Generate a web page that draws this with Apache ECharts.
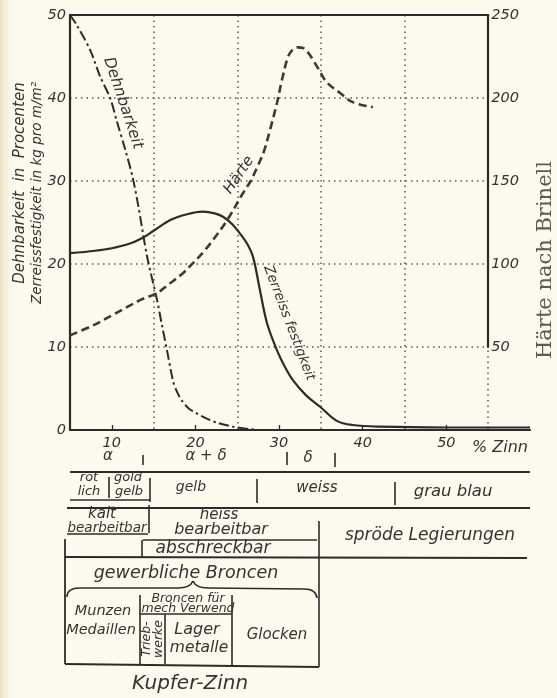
<!DOCTYPE html>
<html>
<head>
<meta charset="utf-8">
<script src="https://cdn.jsdelivr.net/npm/echarts@6/dist/echarts.min.js"></script>
<style>
html,body{margin:0;padding:0;background:#fcf9ee;}
#c{width:557px;height:698px;}
</style>
</head>
<body>
<div id="c"></div>
<script>
// ---- data ----
const zinnZerreiss = [5, 8, 10, 12, 13.6, 15, 17, 19, 20.9, 22.3, 23.3, 24.4, 25.3, 26.2, 26.9, 27.7, 28.55, 29.75, 30.7, 31.65, 33.2, 34.9, 36.9, 38.8, 42, 50, 60];
const zerreissfestigkeit = [21.3, 21.6, 21.9, 22.4, 23.1, 24.0, 25.3, 26.0, 26.3, 26.1, 25.7, 24.8, 23.7, 22.4, 20.8, 16.9, 12.9, 9.6, 7.6, 6.0, 4.2, 2.8, 1.1, 0.6, 0.4, 0.3, 0.3];

const zinnDehn = [5, 5.8, 7.4, 8.6, 9.8, 10.6, 11.6, 12.5, 13.2, 14.2, 15.4, 16.0, 16.6, 17.3, 17.8, 18.4, 19.2, 20.0, 20.9, 22.5, 24.5, 27];
const dehnbarkeit = [50, 48.8, 45.8, 42.6, 40.0, 37.2, 33.8, 30.4, 26.8, 21.0, 15.7, 12.6, 9.6, 6.0, 4.6, 3.5, 2.6, 2.1, 1.6, 0.9, 0.4, 0.05];

const zinnHaerte = [5, 7.75, 10, 11.8, 13.5, 15.4, 17, 18.4, 19.7, 21, 22.1, 23.8, 25.6, 26.6, 27.4, 28.2, 28.9, 29.75, 30.35, 31.05, 31.6, 32.25, 32.9, 33.45, 34.05, 34.65, 35.7, 37.3, 38.8, 41.2];
const haerte = [57, 63, 69, 74, 78.5, 82.5, 88.5, 94, 100.5, 107.5, 114.5, 126.5, 142, 150, 158.5, 168, 180.5, 197, 211, 224.5, 229, 230.5, 230, 227.5, 223, 218, 209.5, 203, 197.5, 194.5];

const xTickValues = [10, 20, 30, 40, 50];
const leftTicks = {min: 0, max: 50, interval: 10};
const rightTicks = {min: 50, max: 250, interval: 50};

const zip = (xs, ys) => xs.map((x, i) => [x, ys[i]]);

const INK = '#2b2b2b';
const TXT = '#333';
const HAND = 'DejaVu Sans';

function ln(x1, y1, x2, y2, w) {
  return {type: 'line', shape: {x1, y1, x2, y2}, style: {stroke: INK, lineWidth: w || 1.6}, silent: true};
}
function qc(x1, y1, cx, cy, x2, y2) {
  return {type: 'bezierCurve', shape: {x1, y1, x2, y2, cpx1: cx, cpy1: cy}, style: {stroke: INK, lineWidth: 1.6, fill: null}, silent: true};
}
function tx(x, y, text, size, opts) {
  opts = opts || {};
  return {
    type: 'text', x, y, rotation: opts.rot || 0,
    style: {
      text, fill: opts.fill || TXT,
      font: (opts.italic === false ? '' : 'italic ') + (size) + 'px "' + (opts.family || HAND) + '"',
      align: opts.align || 'center', verticalAlign: 'middle'
    },
    silent: true
  };
}

const chart = echarts.init(document.getElementById('c'), null, {renderer: 'canvas'});

const option = {
  backgroundColor: '#fcf9ee',
  animation: false,
  grid: [
    {left: 70, top: 15, width: 460, height: 415},
    {left: 70, top: 15, width: 418.18, height: 332}
  ],
  xAxis: [
    {
      type: 'value', gridIndex: 0, position: 'bottom', min: 5, max: 60,
      axisLine: {show: true, onZero: false, lineStyle: {color: INK, width: 2.2}},
      axisTick: {show: true, inside: true, length: 5, customValues: xTickValues, lineStyle: {color: INK, width: 1.3}},
      axisLabel: {show: true, customValues: xTickValues, margin: 6, color: TXT, fontFamily: HAND, fontStyle: 'italic', fontSize: 14.5},
      splitLine: {show: false}
    },
    {
      type: 'value', gridIndex: 0, position: 'top', min: 0, max: 55, interval: 10,
      axisLine: {show: false}, axisTick: {show: false}, axisLabel: {show: false},
      splitLine: {show: true, showMinLine: false, showMaxLine: false, lineStyle: {color: '#555', width: 1.5, type: [1.5, 4]}}
    },
    {
      type: 'value', gridIndex: 1, position: 'top', min: 5, max: 55,
      axisLine: {show: true, onZero: false, lineStyle: {color: INK, width: 2.2}},
      axisTick: {show: false}, axisLabel: {show: false}, splitLine: {show: false}
    }
  ],
  yAxis: [
    {
      type: 'value', gridIndex: 0, position: 'left', min: leftTicks.min, max: leftTicks.max, interval: leftTicks.interval,
      axisLine: {show: true, onZero: false, lineStyle: {color: INK, width: 2.2}},
      axisTick: {show: false},
      axisLabel: {margin: 4, color: TXT, fontFamily: HAND, fontStyle: 'italic', fontSize: 14.5},
      splitLine: {show: false}
    },
    {
      type: 'value', gridIndex: 1, position: 'right', min: rightTicks.min, max: rightTicks.max, interval: rightTicks.interval,
      axisLine: {show: true, onZero: false, lineStyle: {color: INK, width: 2.2}},
      axisTick: {show: false},
      axisLabel: {margin: 3, color: TXT, fontFamily: HAND, fontStyle: 'italic', fontSize: 14.5},
      splitLine: {show: true, showMinLine: true, showMaxLine: false, lineStyle: {color: '#555', width: 1.5, type: [1.5, 4]}}
    }
  ],
  series: [
    {
      name: 'Zerreissfestigkeit', type: 'line', xAxisIndex: 0, yAxisIndex: 0,
      data: zip(zinnZerreiss, zerreissfestigkeit), showSymbol: false, smooth: 0.35,
      lineStyle: {color: INK, width: 2.2}, silent: true
    },
    {
      name: 'Dehnbarkeit', type: 'line', xAxisIndex: 0, yAxisIndex: 0,
      data: zip(zinnDehn, dehnbarkeit), showSymbol: false, smooth: 0.3,
      lineStyle: {color: INK, width: 2, type: [10, 3.5, 2.5, 3.5]}, silent: true
    },
    {
      name: 'Härte', type: 'line', xAxisIndex: 2, yAxisIndex: 1,
      data: zip(zinnHaerte, haerte), showSymbol: false, smooth: 0.35,
      lineStyle: {color: '#3a3a3a', width: 2.6, type: [8, 4.5]}, silent: true
    }
  ],
  graphic: {
    elements: [
      // left-edge scan shading
      {type: 'rect', shape: {x: 0, y: 0, width: 16, height: 698}, silent: true,
       style: {fill: {type: 'linear', x: 0, y: 0, x2: 1, y2: 0, colorStops: [{offset: 0, color: 'rgba(225,205,160,0.55)'}, {offset: 1, color: 'rgba(252,249,238,0)'}]}}},
      // axis titles
      tx(20, 183, 'Dehnbarkeit  in  Procenten', 15, {rot: Math.PI / 2}),
      tx(37, 193, 'Zerreissfestigkeit in kg pro m/m²', 13.5, {rot: Math.PI / 2}),
      tx(546, 260, 'Härte nach Brinell', 21, {rot: Math.PI / 2, italic: false, family: 'DejaVu Serif', fill: '#5a5a5a'}),
      // curve labels
      tx(123, 103, 'Dehnbarkeit', 15.5, {rot: -71.5 * Math.PI / 180}),
      tx(239, 175, 'Härte', 15, {rot: 56 * Math.PI / 180}),
      tx(289, 323, 'Zerreiss festigkeit', 13.5, {rot: -69 * Math.PI / 180}),
      // x unit
      tx(500, 448, '% Zinn', 16),
      // row 1: phases
      tx(108, 456, 'α', 15), tx(206, 456, 'α + δ', 15), tx(308, 458, 'δ', 15),
      ln(143, 455, 143, 465), ln(287, 452, 287, 465), ln(335, 453, 335, 467),
      ln(70, 472, 530, 472, 1.8),
      // row 2: colours
      tx(89, 478, 'röt', 13), tx(89, 492, 'lich', 13),
      tx(128, 478, 'gold', 13), tx(129, 492, 'gelb', 13),
      ln(109, 477, 109, 498), ln(150, 478, 150, 502), ln(70, 500, 150, 500),
      tx(191, 487, 'gelb', 14), ln(257, 479, 257, 503),
      tx(317, 488, 'weiss', 15), ln(395, 482, 395, 505),
      tx(453, 492, 'grau blau', 16.5),
      ln(67, 508, 530, 508, 1.8),
      // row 3: workability
      tx(102, 514, 'kalt', 15), tx(107, 528, 'bearbeitbar', 13.5),
      ln(149, 505, 149, 533), ln(67, 534, 148, 534),
      tx(219, 515, 'heiss', 15), tx(221, 530, 'bearbeitbar', 16),
      ln(143, 540, 317, 540),
      ln(142, 540, 142, 557),
      tx(213, 549, 'abschreckbar', 17),
      ln(319, 521, 319, 667),
      tx(430, 536, 'spröde Legierungen', 17),
      ln(65, 557, 527, 558, 1.8),
      // box: applications
      ln(65, 539, 65, 664, 1.8),
      ln(65, 664, 319, 667, 1.8),
      tx(186, 573, 'gewerbliche Broncen', 17.5),
      qc(67, 597, 67, 588, 80, 588), ln(80, 588, 178, 588),
      qc(178, 588, 190, 588, 193, 581), qc(193, 581, 196, 588, 208, 588),
      ln(208, 588, 304, 589), qc(304, 589, 316, 589, 317, 598),
      tx(103, 611, 'Munzen', 14.5), tx(101, 630, 'Medaillen', 14.5),
      ln(140, 595, 140, 664), ln(232, 595, 232, 665),
      tx(188, 599, 'Broncen für', 12.5), tx(188, 609, 'mech Verwend', 12.5),
      ln(140, 614, 232, 614),
      ln(165, 614, 165, 664),
      tx(147, 639, 'Trieb-', 12.5, {rot: Math.PI / 2}), tx(159, 639, 'werke', 12.5, {rot: Math.PI / 2}),
      tx(197, 630, 'Lager', 16), tx(199, 648, 'metalle', 15.5),
      tx(277, 635, 'Glocken', 15),
      tx(190, 684, 'Kupfer-Zinn', 20)
    ]
  }
};
chart.setOption(option);
</script>
</body>
</html>
